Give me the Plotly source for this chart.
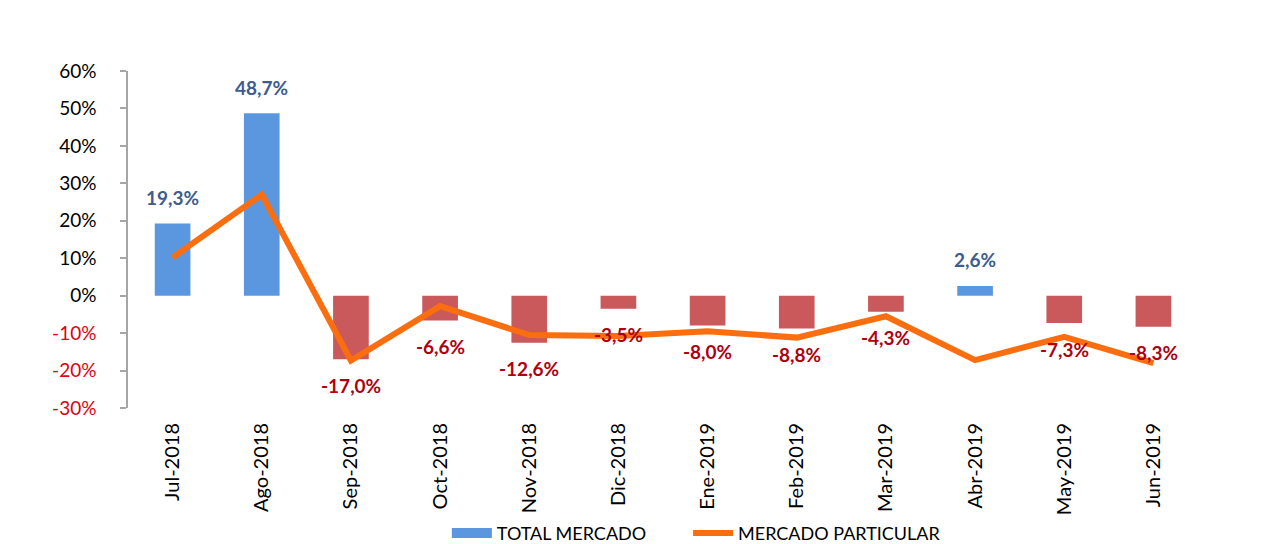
import plotly.graph_objects as go

months = ["Jul-2018", "Ago-2018", "Sep-2018", "Oct-2018", "Nov-2018", "Dic-2018",
          "Ene-2019", "Feb-2019", "Mar-2019", "Abr-2019", "May-2019", "Jun-2019"]
total_mercado = [19.3, 48.7, -17.0, -6.6, -12.6, -3.5, -8.0, -8.8, -4.3, 2.6, -7.3, -8.3]
mercado_particular = [10.2, 27.0, -17.3, -2.8, -10.5, -10.8, -9.5, -11.2, -5.5, -17.2, -11.0, -18.0]
y_ticks = [-30, -20, -10, 0, 10, 20, 30, 40, 50, 60]

BLUE = "#5B97DF"
RED_BAR = "#C9595A"
ORANGE = "#FA6E0F"
POS_LBL = "#3E5C8C"
NEG_LBL = "#B00010"
NEG_TICK = "#E3000F"
FONT = "Lato"

bar_colors = [BLUE if v >= 0 else RED_BAR for v in total_mercado]

fig = go.Figure()
fig.add_trace(go.Bar(
    x=months, y=total_mercado, name="TOTAL MERCADO",
    marker=dict(color=bar_colors, line=dict(width=0)),
    width=0.4, showlegend=False,
))
# legend-only entry drawn as a wide blue swatch (name padded for item spacing)
fig.add_trace(go.Scatter(
    x=[months[0]], y=[None], name="TOTAL MERCADO" + "\u00a0" * 8,
    mode="lines", line=dict(color=BLUE, width=10), hoverinfo="skip",
))
fig.add_trace(go.Scatter(
    x=months, y=mercado_particular, name="MERCADO PARTICULAR",
    mode="lines", line=dict(color=ORANGE, width=6),
))

def fmt(v):
    return (f"{v:.1f}".replace(".", ",")) + "%"

for m, v in zip(months, total_mercado):
    pos = v >= 0
    fig.add_annotation(
        x=m, y=v, text=f"<b>{fmt(v)}</b>", showarrow=False,
        yanchor="middle", yshift=26 if pos else -26,
        font=dict(family=FONT, size=19, color=POS_LBL if pos else NEG_LBL),
    )

tick_text = []
for t in y_ticks:
    if t < 0:
        tick_text.append(f"<span style='color:{NEG_TICK}'>{t}%</span>")
    else:
        tick_text.append(f"{t}%")

fig.update_layout(
    width=1280, height=544,
    paper_bgcolor="white", plot_bgcolor="white",
    margin=dict(l=120, r=90, t=63, b=144, autoexpand=False),
    bargap=0.6,
    font=dict(family=FONT, size=17, color="#000000"),
    showlegend=True,
    legend=dict(orientation="h", x=0.298, xanchor="left", y=-0.372, yanchor="middle",
                font=dict(family=FONT, size=18, color="#000000"),
                itemwidth=40, traceorder="normal", tracegroupgap=0),
    xaxis=dict(
        tickangle=-90, showline=False, showgrid=False, zeroline=False,
        tickfont=dict(family=FONT, size=20, color="#000000"),
        ticks="", ticklabelstandoff=10, automargin=False,
    ),
    yaxis=dict(
        range=[-30, 60], tickvals=y_ticks, ticktext=tick_text,
        showline=True, linecolor="#A6A6A6", linewidth=1.5,
        ticks="outside", ticklen=6, tickcolor="#A6A6A6", tickwidth=1.5,
        showgrid=False, zeroline=False,
        tickfont=dict(family=FONT, size=19, color="#000000"),
        ticklabelstandoff=20, automargin=False,
    ),
)

fig.write_html("out.html")
